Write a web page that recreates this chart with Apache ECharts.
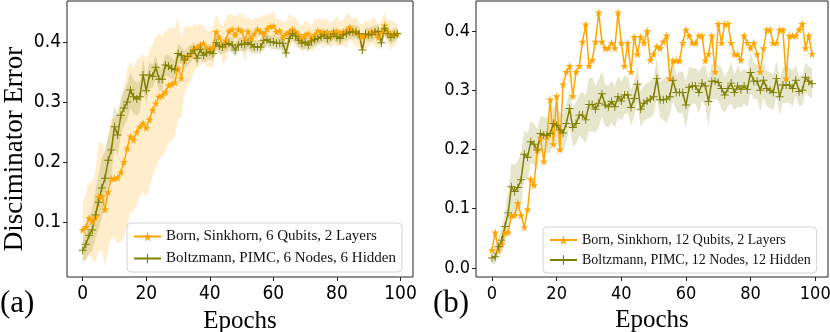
<!DOCTYPE html>
<html>
<head>
<meta charset="utf-8">
<script src="https://cdn.jsdelivr.net/npm/echarts@6/dist/echarts.min.js"></script>
<style>
  html, body { margin: 0; padding: 0; background: #fff; }
  #chart { width: 830px; height: 332px; }
</style>
</head>
<body>
<div id="chart"></div>
<script>
// panel (a): 6 qubits / 6 nodes
var bornA = [0.087,0.092,0.107,0.101,0.108,0.142,0.143,0.121,0.150,0.173,
  0.173,0.174,0.183,0.200,0.223,0.243,0.237,0.250,0.259,0.265,
  0.257,0.271,0.287,0.298,0.309,0.311,0.317,0.328,0.330,0.333,
  0.356,0.340,0.370,0.377,0.380,0.390,0.392,0.395,0.398,0.390,
  0.388,0.392,0.417,0.408,0.395,0.403,0.418,0.421,0.412,0.421,
  0.419,0.403,0.418,0.406,0.414,0.421,0.417,0.414,0.422,0.426,
  0.427,0.417,0.419,0.408,0.414,0.417,0.421,0.417,0.412,0.406,
  0.412,0.414,0.406,0.412,0.419,0.417,0.414,0.417,0.410,0.417,
  0.418,0.414,0.417,0.419,0.425,0.419,0.417,0.412,0.409,0.412,
  0.414,0.418,0.417,0.408,0.417,0.428,0.417,0.412,0.414,0.414];
var bornSdA = [0.05,0.055,0.06,0.065,0.075,0.09,0.09,0.095,0.095,0.1,
  0.1,0.11,0.115,0.125,0.13,0.125,0.12,0.12,0.115,0.115,
  0.115,0.115,0.11,0.11,0.105,0.1,0.1,0.095,0.095,0.09,
  0.085,0.065,0.055,0.05,0.045,0.04,0.035,0.035,0.03,0.03,
  0.03,0.035,0.03,0.025,0.03,0.035,0.03,0.025,0.03,0.025,
  0.03,0.035,0.025,0.03,0.025,0.02,0.025,0.03,0.025,0.02,
  0.025,0.02,0.02,0.025,0.02,0.03,0.02,0.025,0.02,0.02,
  0.025,0.02,0.02,0.025,0.02,0.02,0.025,0.02,0.02,0.02,
  0.025,0.02,0.02,0.03,0.02,0.02,0.025,0.02,0.02,0.025,
  0.02,0.02,0.025,0.02,0.02,0.02,0.02,0.025,0.02,0.015];
var boltzA = [0.053,0.063,0.078,0.087,0.112,0.133,0.157,0.173,0.203,0.220,
  0.259,0.245,0.278,0.290,0.300,0.320,0.309,0.305,0.309,0.345,
  0.319,0.345,0.343,0.358,0.338,0.338,0.362,0.360,0.356,0.354,
  0.381,0.378,0.370,0.376,0.381,0.387,0.373,0.388,0.378,0.382,
  0.384,0.381,0.399,0.393,0.392,0.396,0.398,0.395,0.387,0.395,
  0.397,0.396,0.399,0.396,0.392,0.392,0.392,0.403,0.404,0.400,
  0.400,0.398,0.398,0.398,0.382,0.406,0.414,0.410,0.403,0.398,
  0.400,0.395,0.402,0.404,0.406,0.409,0.412,0.406,0.409,0.414,
  0.409,0.406,0.412,0.414,0.417,0.417,0.417,0.414,0.387,0.414,
  0.412,0.413,0.417,0.418,0.399,0.423,0.414,0.408,0.412,0.414];
var boltzSdA = [0.02,0.025,0.03,0.035,0.04,0.045,0.05,0.045,0.04,0.04,
  0.035,0.035,0.03,0.03,0.03,0.03,0.028,0.028,0.025,0.025,
  0.022,0.022,0.02,0.02,0.02,0.02,0.018,0.018,0.018,0.016,
  0.016,0.015,0.015,0.015,0.015,0.014,0.014,0.014,0.013,0.013,
  0.013,0.012,0.012,0.013,0.012,0.012,0.012,0.013,0.012,0.012,
  0.012,0.012,0.011,0.012,0.012,0.011,0.012,0.012,0.011,0.011,
  0.012,0.011,0.011,0.012,0.011,0.011,0.011,0.012,0.011,0.011,
  0.011,0.012,0.011,0.011,0.012,0.011,0.011,0.012,0.011,0.011,
  0.011,0.012,0.011,0.011,0.012,0.011,0.011,0.012,0.011,0.011,
  0.011,0.012,0.011,0.011,0.012,0.011,0.011,0.012,0.011,0.011];

// panel (b): 12 qubits / 12 nodes
var bornB = [0.030,0.060,0.030,0.040,0.060,0.060,0.089,0.089,0.110,0.089,
  0.069,0.099,0.150,0.140,0.200,0.220,0.180,0.222,0.284,0.209,
  0.290,0.200,0.310,0.331,0.341,0.290,0.331,0.341,0.382,0.411,
  0.341,0.351,0.382,0.431,0.382,0.371,0.371,0.380,0.371,0.431,
  0.380,0.341,0.380,0.331,0.390,0.361,0.390,0.380,0.400,0.351,
  0.361,0.374,0.371,0.382,0.392,0.320,0.350,0.350,0.350,0.380,
  0.402,0.392,0.380,0.380,0.392,0.392,0.350,0.361,0.392,0.331,
  0.412,0.380,0.412,0.412,0.380,0.361,0.361,0.351,0.392,0.380,
  0.371,0.380,0.361,0.331,0.371,0.402,0.402,0.380,0.380,0.402,
  0.402,0.320,0.392,0.392,0.392,0.402,0.412,0.371,0.392,0.361];
var boltzB = [0.017,0.019,0.036,0.047,0.070,0.093,0.137,0.129,0.136,0.149,
  0.192,0.187,0.213,0.209,0.199,0.227,0.224,0.224,0.227,0.244,
  0.241,0.233,0.228,0.244,0.269,0.237,0.244,0.258,0.258,0.250,
  0.276,0.276,0.268,0.278,0.294,0.275,0.272,0.281,0.272,0.289,
  0.282,0.292,0.292,0.271,0.286,0.310,0.268,0.278,0.282,0.285,
  0.289,0.320,0.284,0.284,0.285,0.289,0.317,0.296,0.296,0.296,
  0.275,0.305,0.307,0.307,0.296,0.312,0.307,0.281,0.315,0.315,
  0.313,0.303,0.292,0.303,0.312,0.296,0.307,0.301,0.307,0.301,
  0.330,0.315,0.315,0.300,0.317,0.303,0.300,0.296,0.320,0.289,
  0.309,0.309,0.309,0.303,0.317,0.298,0.300,0.322,0.315,0.311];
var boltzSdB = [0.01,0.012,0.015,0.02,0.025,0.035,0.04,0.045,0.045,0.045,
  0.04,0.04,0.035,0.035,0.035,0.03,0.03,0.03,0.032,0.03,
  0.03,0.03,0.032,0.03,0.03,0.032,0.035,0.035,0.04,0.04,
  0.045,0.045,0.04,0.04,0.038,0.035,0.035,0.035,0.035,0.035,
  0.033,0.033,0.03,0.03,0.03,0.03,0.03,0.03,0.03,0.03,
  0.03,0.035,0.03,0.035,0.04,0.03,0.035,0.03,0.035,0.035,
  0.04,0.035,0.03,0.03,0.035,0.03,0.035,0.04,0.03,0.03,
  0.03,0.035,0.03,0.03,0.035,0.03,0.035,0.03,0.03,0.03,
  0.035,0.03,0.03,0.035,0.03,0.03,0.03,0.03,0.03,0.03,
  0.03,0.03,0.03,0.03,0.025,0.025,0.025,0.025,0.025,0.025];

var xTicks = [0, 20, 40, 60, 80, 100];
var yTicksA = [0.1, 0.2, 0.3, 0.4];
var yTicksB = [0.0, 0.1, 0.2, 0.3, 0.4];
var namesA = ['Born, Sinkhorn, 6 Qubits, 2 Layers', 'Boltzmann, PIMC, 6 Nodes, 6 Hidden'];
var namesB = ['Born, Sinkhorn, 12 Qubits, 2 Layers', 'Boltzmann, PIMC, 12 Nodes, 12 Hidden'];

var ORANGE = '#FFA500', OLIVE = '#808000';
var STAR = 'path://M50,0L61,35H98L68,57L79,91L50,70L21,91L32,57L2,35H39Z';
var PLUS = 'path://M44,0H56V44H100V56H56V100H44V56H0V44H44Z';
var SERIF = 'Liberation Serif';
var SANS = '"Liberation Sans Narrow", "DejaVu Sans Condensed", sans-serif';

function pairs(arr) {
    return arr.map(function (v, i) { return [i, v]; });
}

// shaded mean +/- spread, drawn as one polygon through the axis scales
function band(idx, mean, sd, fill) {
    var data = mean.map(function (m, i) { return [i, m - sd[i], m + sd[i]]; });
    return {
        type: 'custom', xAxisIndex: idx, yAxisIndex: idx, data: data,
        encode: {x: 0, y: [1, 2]}, silent: true, z: 1, clip: true,
        renderItem: function (params, api) {
            if (params.dataIndex !== 0) return;
            var top = [], bottom = [];
            for (var i = 0; i < data.length; i++) {
                top.push(api.coord([data[i][0], data[i][2]]));
                bottom.unshift(api.coord([data[i][0], data[i][1]]));
            }
            return {
                type: 'polygon',
                shape: {points: top.concat(bottom)},
                style: {fill: fill}
            };
        }
    };
}

function line(idx, name, data, color, symbol, size) {
    return {
        name: name, type: 'line', xAxisIndex: idx, yAxisIndex: idx,
        data: pairs(data), color: color,
        symbol: symbol, symbolSize: size, showAllSymbol: true,
        lineStyle: {width: 1.5, color: color},
        itemStyle: {color: color},
        z: 3
    };
}

function xAxis(idx, fs) {
    return {
        type: 'value', gridIndex: idx, min: -4.95, max: 103.95,
        name: 'Epochs', nameLocation: 'middle', nameGap: 31,
        nameTextStyle: {fontFamily: SERIF, fontSize: 25, color: '#000'},
        axisLine: {show: false, onZero: false},
        axisTick: {show: true, length: 4, customValues: xTicks, lineStyle: {color: '#222'}},
        axisLabel: {customValues: xTicks, fontFamily: SANS, fontSize: fs, color: '#000', margin: 8},
        splitLine: {show: false}
    };
}

function yAxis(idx, min, max, ticks, fs) {
    return {
        type: 'value', gridIndex: idx, min: min, max: max,
        axisLine: {show: false, onZero: false},
        axisTick: {show: true, length: 4, customValues: ticks, lineStyle: {color: '#222'}},
        axisLabel: {
            customValues: ticks, fontFamily: SANS, fontSize: fs, color: '#000', margin: 6,
            formatter: function (v) { return v.toFixed(1); }
        },
        splitLine: {show: false}
    };
}

function legend(names, left, top, fs, gap) {
    return {
        data: names, orient: 'vertical', left: left, top: top,
        itemWidth: 27, itemHeight: 12, itemGap: gap,
        padding: [6, 6, 6, 6],
        backgroundColor: 'rgba(255,255,255,0.8)',
        borderColor: '#d4d4d4', borderWidth: 1, borderRadius: 4,
        textStyle: {fontFamily: SERIF, fontSize: fs, color: '#111'},
        selectedMode: false
    };
}

var chart = echarts.init(document.getElementById('chart'), null, {renderer: 'canvas'});
var option = {
    animation: false,
    grid: [
        {left: 67, top: 1, width: 346, height: 276, outerBoundsMode: 'none', containLabel: false,
         show: true, borderColor: '#222', borderWidth: 1, backgroundColor: 'transparent'},
        {left: 476, top: 1, width: 352, height: 276, outerBoundsMode: 'none', containLabel: false,
         show: true, borderColor: '#222', borderWidth: 1, backgroundColor: 'transparent'}
    ],
    xAxis: [xAxis(0, 19), xAxis(1, 18)],
    yAxis: [
        yAxis(0, 0.0085, 0.4685, yTicksA, 19),
        yAxis(1, -0.0152, 0.4506, yTicksB, 18)
    ],
    legend: [
        legend(namesA, 127, 223, 15, 7),
        legend(namesB, 543, 227, 14, 6)
    ],
    graphic: [
        {type: 'text', x: 15, y: 149, rotation: Math.PI / 2,
         style: {text: 'Disciminator Error', font: '27px "Liberation Serif"', fill: '#000',
                 align: 'center', verticalAlign: 'middle'}},
        {type: 'text', left: 0, top: 288, style: {text: '(a)', font: '31px "Liberation Serif"', fill: '#000'}},
        {type: 'text', left: 433, top: 288, style: {text: '(b)', font: '31px "Liberation Serif"', fill: '#000'}}
    ],
    series: [
        band(0, bornA, bornSdA, 'rgba(255,165,0,0.2)'),
        band(0, boltzA, boltzSdA, 'rgba(128,128,0,0.2)'),
        band(1, boltzB, boltzSdB, 'rgba(128,128,0,0.2)'),
        line(0, namesA[0], bornA, ORANGE, STAR, 8),
        line(0, namesA[1], boltzA, OLIVE, PLUS, 8),
        line(1, namesB[0], bornB, ORANGE, STAR, 8),
        line(1, namesB[1], boltzB, OLIVE, PLUS, 8)
    ]
};
chart.setOption(option);
</script>
</body>
</html>
